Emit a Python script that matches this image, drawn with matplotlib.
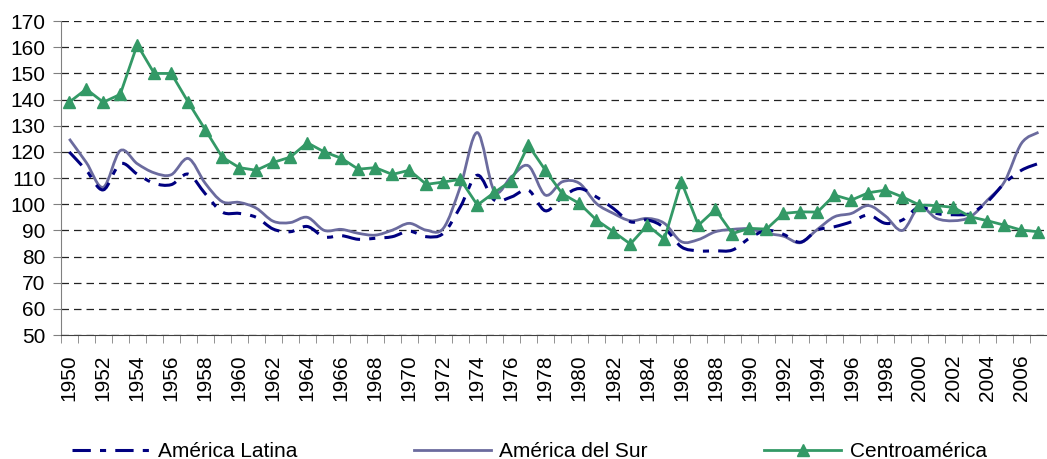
import matplotlib
matplotlib.use("Agg")
import matplotlib.pyplot as plt
from matplotlib.path import Path
from matplotlib.patches import PathPatch
from matplotlib.lines import Line2D

plt.rcParams['font.family'] = ['Liberation Sans', 'DejaVu Sans']

years = list(range(1950, 2008))

latina = [120, 113, 105.5, 115.5, 111.5, 108, 107.5, 111.5, 104, 97,
          96.5, 95, 90.5, 89.5, 91.5, 87.5, 88, 86.6, 87, 87.6,
          89.7, 87.6, 88.9, 99, 111.1, 101.6, 102.8, 105.4, 97.5, 102.8,
          106, 102.8, 98.4, 93.3, 94, 91, 83.7, 82.2, 82.2, 82.5,
          87, 90, 88.5, 85.5, 90.1, 91.4, 93.3, 95.9, 92.7, 94,
          99, 96.5, 96, 96.5, 101, 108, 113, 115.6]

sur = [125, 116, 106.5, 120.5, 115.5, 112, 111.3, 117.5, 108, 101,
       100.7, 98.5, 93.5, 93, 95, 90, 90.4, 88.9, 88.2, 90.1,
       92.7, 90.1, 90.8, 106.7, 127.4, 105, 110.5, 114.7, 103.5, 108.6,
       108, 100.3, 96.5, 93.7, 94.6, 92.7, 85.7, 86.5, 89.5, 90.4,
       90.6, 88.9, 87.8, 85.3, 90.4, 95.2, 96.5, 99.5, 95.5, 90,
       99, 94.6, 93.7, 95.2, 101.6, 108.6, 123.3, 127.5]

centro = [139, 144, 139, 142, 161, 150, 150, 139, 128.5, 118,
          114, 113, 116, 118, 123.5, 120, 117.6, 113.4, 114, 111.4,
          113, 107.6, 108.5, 109.5, 99.7, 104.5, 109, 122.6, 113, 104,
          100.3, 94, 89.5, 84.8, 92, 86.7, 108.6, 92, 98, 88.8,
          90.8, 90.5, 96.5, 97.1, 97, 103.5, 101.6, 104.4, 105.4, 102.8,
          99.7, 99.5, 98.8, 95.2, 93.7, 92, 90.1, 89.5]

labels = ["América Latina", "América del Sur", "Centroamérica"]
c_lat = "#000080"
c_sur = "#6b6b9e"
c_cen = "#339966"


def smooth_path(xs, ys):
    # excel style smoothed line: cubic bezier through every point
    pts = list(zip(xs, ys))
    n = len(pts)
    verts = [pts[0]]
    codes = [Path.MOVETO]
    for i in range(n - 1):
        p0 = pts[i - 1] if i > 0 else pts[i]
        p1 = pts[i]
        p2 = pts[i + 1]
        p3 = pts[i + 2] if i + 2 < n else pts[i + 1]
        c1 = (p1[0] + (p2[0] - p0[0]) / 6, p1[1] + (p2[1] - p0[1]) / 6)
        c2 = (p2[0] - (p3[0] - p1[0]) / 6, p2[1] - (p3[1] - p1[1]) / 6)
        verts += [c1, c2, p2]
        codes += [Path.CURVE4] * 3
    return Path(verts, codes)


fig = plt.figure(figsize=(10.47, 4.59), dpi=100)
ax = fig.add_axes([0.058, 0.27, 0.942, 0.684])

x = list(range(len(years)))

dash_lat = (0, (6, 3, 2, 3))
ax.add_patch(PathPatch(smooth_path(x, latina), fill=False, edgecolor=c_lat,
                       lw=2.2, linestyle=dash_lat, zorder=3))
ax.add_patch(PathPatch(smooth_path(x, sur), fill=False, edgecolor=c_sur,
                       lw=2.0, zorder=2))
ax.plot(x, centro, color=c_cen, lw=2.0, marker="^", markersize=9, zorder=4)

ax.set_xlim(-0.5, len(years) - 0.5)
ax.set_ylim(50, 170)
ax.set_yticks(range(50, 171, 10))
ax.yaxis.grid(True, linestyle=(0, (6, 4)), color="#222222", lw=0.9)
ax.set_axisbelow(True)

ax.set_xticks(x[::2])
ax.set_xticklabels([str(y) for y in years[::2]], rotation=90)
ax.set_xticks([i - 0.5 for i in range(len(years) + 1)], minor=True)
ax.tick_params(axis="x", which="major", length=0, pad=14, labelsize=15)
ax.tick_params(axis="x", which="minor", length=6, color="#808080")
ax.tick_params(axis="y", length=6, color="#808080", labelsize=15, pad=5)

for s in ["top", "right"]:
    ax.spines[s].set_visible(False)
ax.spines["left"].set_color("#808080")
ax.spines["bottom"].set_color("#404040")

handles = [
    Line2D([], [], color=c_lat, lw=2.2, linestyle=dash_lat),
    Line2D([], [], color=c_sur, lw=2.0),
    Line2D([], [], color=c_cen, lw=2.0, marker="^", markersize=9),
]
fig.legend(handles, labels, loc="lower left", bbox_to_anchor=(0.051, -0.045),
           ncol=3, frameon=False, fontsize=15, handlelength=3.7,
           handletextpad=0.4, columnspacing=5.6)

fig.savefig("out.png", dpi=100)
